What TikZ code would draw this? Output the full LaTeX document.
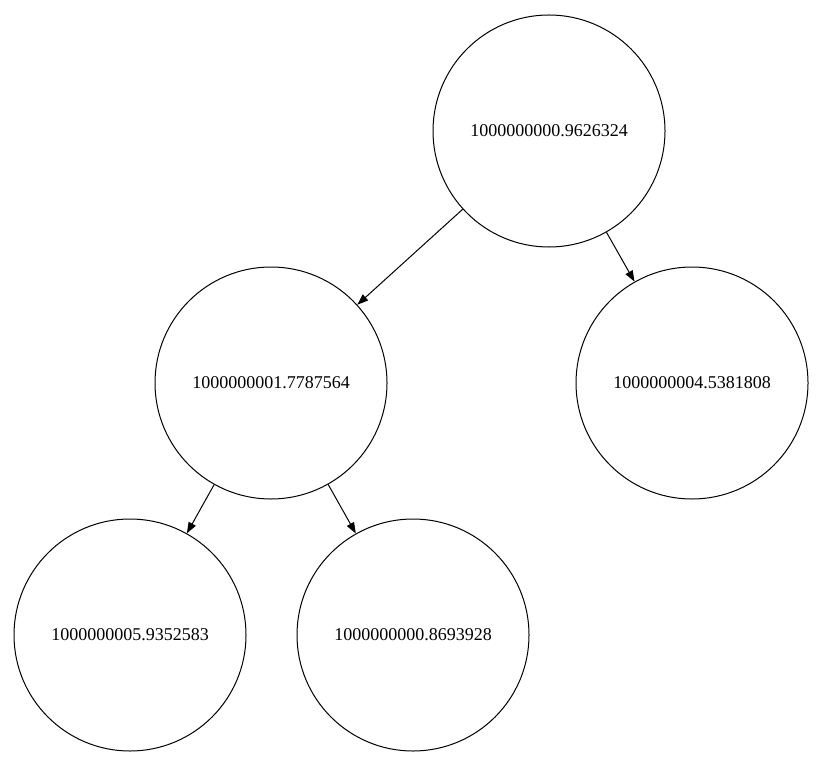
\documentclass[tikz,border=0pt]{standalone}
\usepackage{fontspec}
\setmainfont{Liberation Serif}
\usetikzlibrary{arrows.meta}
\begin{document}
\begin{tikzpicture}[x=1pt,y=-1pt,
  tnode/.style={draw, circle, minimum size=232pt, inner sep=0pt, line width=1pt, font=\fontsize{18}{20}\selectfont},
  tedge/.style={draw, line width=1pt, -{Triangle[length=11pt,width=8pt]}}]
\useasboundingbox (0,0) rectangle (826,767);
\node[tnode] (r) at (549,131) {1000000000.9626324};
\node[tnode] (a) at (271,383) {1000000001.7787564};
\node[tnode] (b) at (692,383) {1000000004.5381808};
\node[tnode] (c) at (130,635) {1000000005.9352583};
\node[tnode] (d) at (413,635) {1000000000.8693928};
\draw[tedge] (r) -- (a);
\draw[tedge] (r) -- (b);
\draw[tedge] (a) -- (c);
\draw[tedge] (a) -- (d);
\end{tikzpicture}
\end{document}
